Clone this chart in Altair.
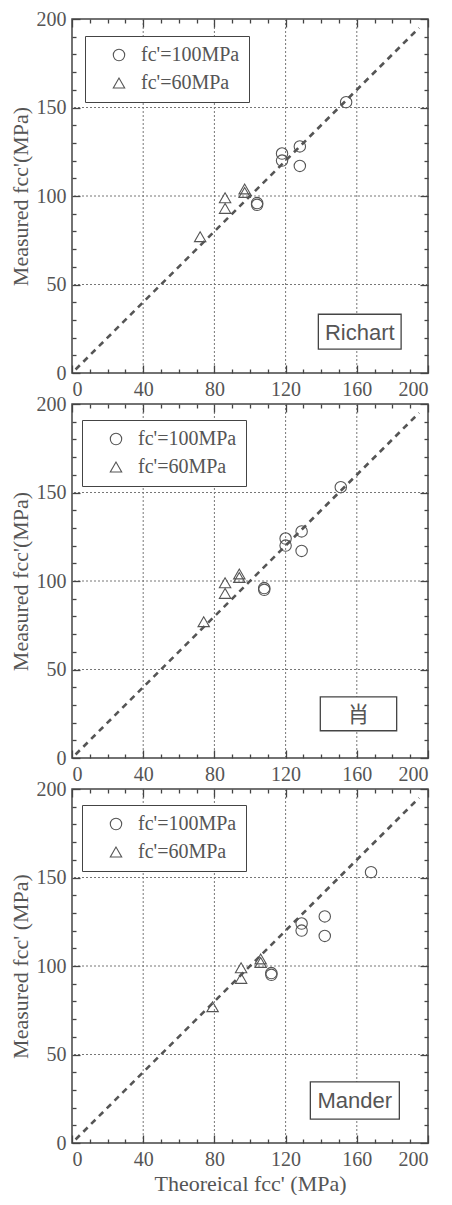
import altair as alt
import pandas as pd

# ---- data ----
series_labels = ["fc'=100MPa", "fc'=60MPa"]
measured_100 = [153, 124, 120, 128, 117, 96, 95]
measured_60 = [77, 99, 93, 104, 102]

richart_100 = [154, 118, 118, 128, 128, 104, 104]
richart_60 = [72, 86, 86, 97, 97]
xiao_100 = [151, 120, 120, 129, 129, 108, 108]
xiao_60 = [74, 86, 86, 94, 94]
mander_100 = [168, 129, 129, 142, 142, 112, 112]
mander_60 = [79, 95, 95, 106, 106]

panel_names = ["Richart", "肖", "Mander"]
x_major = [0, 40, 80, 120, 160, 200]
x_minor = [10, 20, 30, 50, 60, 70, 90, 100, 110, 130, 140, 150, 170, 180, 190]
y_major = [0, 50, 100, 150, 200]
y_minor = [10, 20, 30, 40, 60, 70, 80, 90, 110, 120, 130, 140, 160, 170, 180, 190]
x_grid = [40, 80, 120, 160]
y_grid = [50, 100, 150]
diag_line = [2, 195]

GRAY = "#555555"
DARK = "#444444"
SERIF = "Liberation Serif"

AX = dict(labelFont=SERIF, labelFontSize=20, labelColor=GRAY,
          titleFont=SERIF, titleFontSize=22, titleFontWeight="normal",
          titleColor=GRAY, tickColor=DARK, tickWidth=1.3, ticks=True, zindex=2,
          domain=False, grid=False, labelPadding=6, titlePadding=4)


def ax(orient, vals, size, labels=False, title=None):
    # inward ticks: axis shifted inward by its own tick length
    return alt.Axis(orient=orient, values=vals, tickSize=size, offset=-size,
                    labels=labels, title=title, **AX)


def panel(x100, x60, name, box, legend_xy, x_title, y_title, name_font):
    pts = pd.DataFrame({
        "x": x100 + x60,
        "y": measured_100 + measured_60,
        "s": [series_labels[0]] * len(x100) + [series_labels[1]] * len(x60),
    })
    line_df = pd.DataFrame({"x": diag_line, "y": diag_line})
    sc = alt.Scale(domain=[0, 200], nice=False)

    gx = alt.Chart(pd.DataFrame({"g": x_grid})).mark_rule(
        color="#777777", strokeDash=[2, 2], strokeWidth=1
    ).encode(x=alt.X("g:Q", scale=sc,
                     axis=ax("bottom", x_major, 8, labels=True, title=x_title)))
    gy = alt.Chart(pd.DataFrame({"g": y_grid})).mark_rule(
        color="#777777", strokeDash=[2, 2], strokeWidth=1
    ).encode(y=alt.Y("g:Q", scale=sc,
                     axis=ax("left", y_major, 8, labels=True, title=y_title)))

    line = alt.Chart(line_df).mark_line(
        color=GRAY, strokeDash=[6, 5], strokeWidth=2.6
    ).encode(
        x=alt.X("x:Q", scale=sc, axis=ax("top", x_major, 8)),
        y=alt.Y("y:Q", scale=sc, axis=ax("right", y_major, 8)),
    )

    points = alt.Chart(pts).mark_point(
        filled=False, color=GRAY, strokeWidth=1.1, size=130, opacity=1
    ).encode(
        x=alt.X("x:Q", scale=sc, axis=ax("bottom", x_minor, 4)),
        y=alt.Y("y:Q", scale=sc, axis=ax("left", y_minor, 4)),
        shape=alt.Shape("s:N", scale=alt.Scale(domain=series_labels,
                                               range=["circle", "triangle-up"]),
                        legend=alt.Legend(
                            title=None, orient="none",
                            legendX=legend_xy[0], legendY=legend_xy[1],
                            strokeColor=DARK, fillColor="white", padding=9,
                            symbolOffset=15, labelOffset=12, rowPadding=8,
                            symbolSize=130, symbolStrokeWidth=1.1,
                            symbolStrokeColor=GRAY, symbolFillColor="transparent",
                            labelFont=SERIF, labelFontSize=20, labelColor=GRAY,
                            labelLimit=300)),
    )

    rect = alt.Chart(pd.DataFrame({"a": [0]})).mark_rect(
        fill="white", stroke=DARK, strokeWidth=1.3
    ).encode(
        x=alt.X(datum=box[0], scale=sc, axis=ax("top", x_minor, 4)),
        x2=alt.X2(datum=box[1]),
        y=alt.Y(datum=box[2], scale=sc, axis=ax("right", y_minor, 4)),
        y2=alt.Y2(datum=box[3]),
    )
    txt = alt.Chart(pd.DataFrame({"t": [name]})).mark_text(
        font=name_font, fontSize=22, color=GRAY, align="center", baseline="middle"
    ).encode(
        x=alt.X(datum=(box[0] + box[1]) / 2, scale=sc, axis=None),
        y=alt.Y(datum=(box[2] + box[3]) / 2 - 0.5, scale=sc, axis=None),
        text="t:N",
    )

    return alt.layer(gx, gy, line, points, rect, txt).resolve_axis(
        x="independent", y="independent"
    ).properties(width=356, height=354)


p1 = panel(richart_100, richart_60, panel_names[0], (138.4, 184.9, 13.5, 33.2),
           (13, 17), None, "Measured fcc'(MPa)", "Liberation Sans")
p2 = panel(xiao_100, xiao_60, panel_names[1], (139.5, 182.4, 15.4, 34.5),
           (10, 16), None, "Measured fcc'(MPa)", "Noto Sans CJK SC")
p3 = panel(mander_100, mander_60, panel_names[2], (133.9, 183.9, 13.5, 34.5),
           (10, 16), "Theoreical fcc' (MPa)", "Measured fcc' (MPa)", "Liberation Sans")

chart = alt.vconcat(p1, p2, p3, spacing=31, bounds="flush").resolve_scale(
    shape="independent"
).resolve_legend(shape="independent").properties(
    padding={"left": 0, "top": 0, "right": 5, "bottom": 0},
    background="white",
).configure_view(
    stroke=DARK, strokeWidth=1.5
)

chart.save("out.html", embed_options={"renderer": "svg", "actions": False})
